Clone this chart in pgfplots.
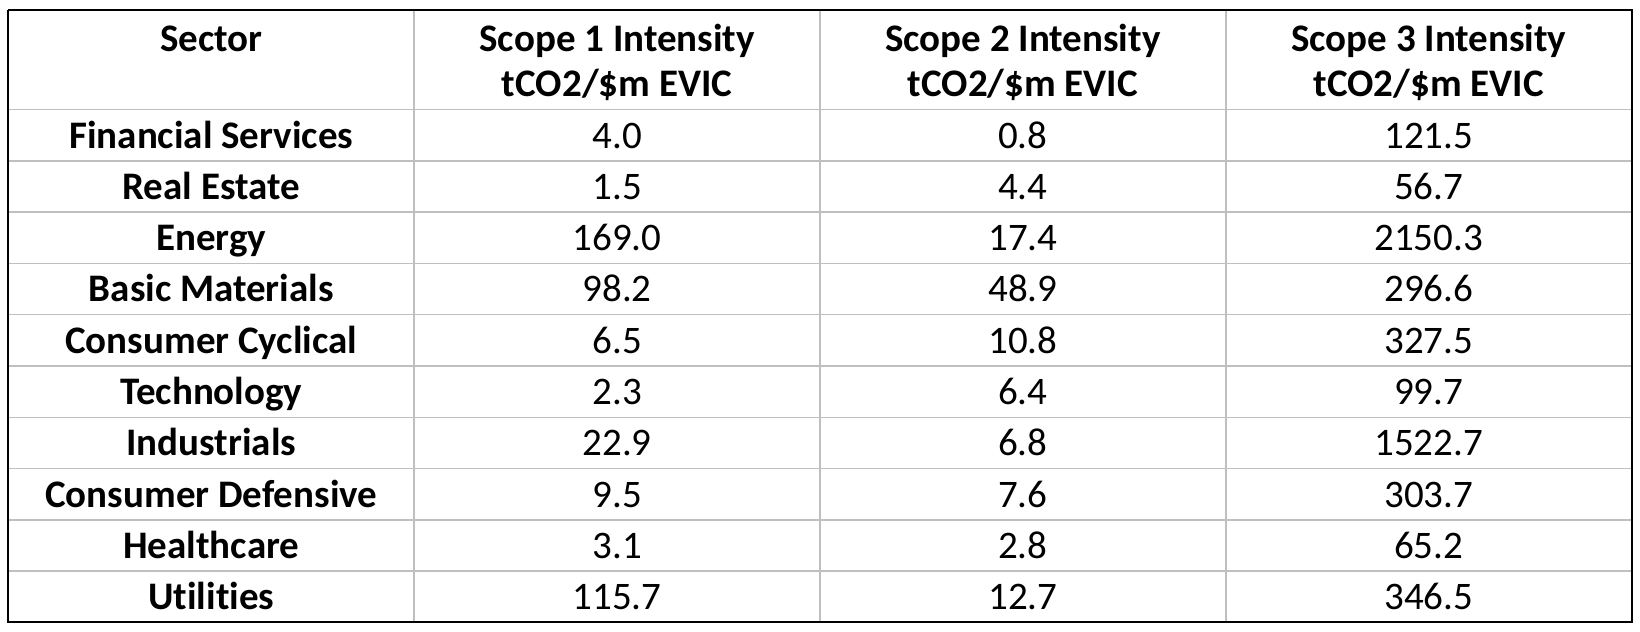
\documentclass[border=0pt]{standalone}
\usepackage{fontspec}
\setmainfont{Carlito}[Ligatures=NoCommon]
\usepackage{pgfplots}
\usepackage{pgfplotstable}
\pgfplotsset{compat=1.18}

% sector intensities, tCO2/$m EVIC
\pgfplotstableread[col sep=comma]{
sector,s1,s2,s3
Financial Services,4.0,0.8,121.5
Real Estate,1.5,4.4,56.7
Energy,169.0,17.4,2150.3
Basic Materials,98.2,48.9,296.6
Consumer Cyclical,6.5,10.8,327.5
Technology,2.3,6.4,99.7
Industrials,22.9,6.8,1522.7
Consumer Defensive,9.5,7.6,303.7
Healthcare,3.1,2.8,65.2
Utilities,115.7,12.7,346.5
}\sectors

% header cells, baselines in px from the top
\pgfplotstableread[col sep=comma]{
x,y,label
211.3,51.5,Sector
617.1,51.5,Scope 1 Intensity
617.1,96.5,tCO2/\$m EVIC
1022.9,51.5,Scope 2 Intensity
1022.9,96.5,tCO2/\$m EVIC
1428.7,51.5,Scope 3 Intensity
1428.7,96.5,tCO2/\$m EVIC
}\header

\definecolor{gridgray}{HTML}{BFBFBF}

\begin{document}
\begin{tikzpicture}
\begin{axis}[
  width=820pt, height=316pt,
  scale only axis,
  xmin=0, xmax=1640,
  ymin=0, ymax=634,
  y dir=reverse,
  hide axis,
  clip=false,
  every node near coord/.append style={text=black, font=\fontsize{19.5}{23}\selectfont},
  nodes near coords align={anchor=base},
]
\addplot[draw=none, forget plot] coordinates {(0,0) (1640,634)};
% inner rules
\addplot[gridgray, line width=0.75pt] coordinates {(8.4,109.8) (1631.6,109.8)};
\addplot[gridgray, line width=0.75pt] coordinates {(8.4,161.3) (1631.6,161.3)};
\addplot[gridgray, line width=0.75pt] coordinates {(8.4,212.7) (1631.6,212.7)};
\addplot[gridgray, line width=0.75pt] coordinates {(8.4,264.2) (1631.6,264.2)};
\addplot[gridgray, line width=0.75pt] coordinates {(8.4,315.6) (1631.6,315.6)};
\addplot[gridgray, line width=0.75pt] coordinates {(8.4,367.1) (1631.6,367.1)};
\addplot[gridgray, line width=0.75pt] coordinates {(8.4,418.6) (1631.6,418.6)};
\addplot[gridgray, line width=0.75pt] coordinates {(8.4,470.0) (1631.6,470.0)};
\addplot[gridgray, line width=0.75pt] coordinates {(8.4,521.5) (1631.6,521.5)};
\addplot[gridgray, line width=0.75pt] coordinates {(8.4,572.9) (1631.6,572.9)};
\addplot[gridgray, line width=0.75pt] coordinates {(414.2,10.5) (414.2,624.4)};
\addplot[gridgray, line width=0.75pt] coordinates {(820.0,10.5) (820.0,624.4)};
\addplot[gridgray, line width=0.75pt] coordinates {(1225.8,10.5) (1225.8,624.4)};
% outer frame
\addplot[black, line width=1pt] coordinates {(8.4,10.5) (1631.6,10.5) (1631.6,624.4) (8.4,624.4) (8.4,10.5)};
% header
\addplot[draw=none, mark=none, nodes near coords, point meta=explicit symbolic,
  every node near coord/.append style={font=\fontsize{19.5}{23}\selectfont\bfseries}]
  table[x=x, y=y, meta=label] {\header};
% body
\addplot[draw=none, mark=none, nodes near coords, point meta=explicit symbolic,
  every node near coord/.append style={font=\fontsize{19.5}{23}\selectfont\bfseries}]
  table[x expr=211.3, y expr=\coordindex*51.46+148.5, meta=sector] {\sectors};
\addplot[draw=none, mark=none, nodes near coords, point meta=explicit symbolic]
  table[x expr=617.1, y expr=\coordindex*51.46+148.5, meta=s1] {\sectors};
\addplot[draw=none, mark=none, nodes near coords, point meta=explicit symbolic]
  table[x expr=1022.9, y expr=\coordindex*51.46+148.5, meta=s2] {\sectors};
\addplot[draw=none, mark=none, nodes near coords, point meta=explicit symbolic]
  table[x expr=1428.7, y expr=\coordindex*51.46+148.5, meta=s3] {\sectors};
\end{axis}
\end{tikzpicture}
\end{document}
